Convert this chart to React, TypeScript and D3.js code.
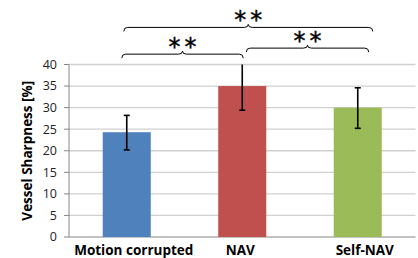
import React from "react";
import * as d3 from "d3";

const categories = ["Motion corrupted", "NAV", "Self-NAV"];
const means = [24.3, 35.0, 30.0];
const errLow = [20.2, 29.4, 25.2];
const errHigh = [28.2, 40.0, 34.6];
const colors = ["#4F81BD", "#C0504D", "#9BBB59"];
const yTicks = [0, 5, 10, 15, 20, 25, 30, 35, 40];
const yLabel = "Vessel Sharpness [%]";
// significance brackets: from/to category index, level in data units
const brFrom = [0, 1, 0];
const brTo = [1, 2, 2];
const brLevel = [42.4, 43.8, 48.6];
const brDx1 = [-5, 4, -3];
const brDx2 = [1, 11, 15];
const brLabel = ["**", "**", "**"];

const W = 418;
const H = 258;
const left = 69;
const right = 415.5;
const top = 64.5;
const bottom = 237;
const font = "'Open Sans', sans-serif";

export default function App() {
  const x = d3
    .scaleBand<string>()
    .domain(categories)
    .range([left, right])
    .paddingInner(0.584)
    .paddingOuter(0.292);
  const y = d3.scaleLinear().domain([0, 40]).range([bottom, top]);
  const bw = x.bandwidth();
  const cx = (i: number) => (x(categories[i]) as number) + bw / 2;

  const brace = (x1: number, x2: number, yy: number) => {
    const xm = (x1 + x2) / 2;
    const h = 4;
    const r = 4;
    const p = d3.path();
    p.moveTo(x1, yy + h);
    p.quadraticCurveTo(x1, yy, x1 + r, yy);
    p.lineTo(xm - r, yy);
    p.quadraticCurveTo(xm, yy, xm, yy - 3);
    p.quadraticCurveTo(xm, yy, xm + r, yy);
    p.lineTo(x2 - r, yy);
    p.quadraticCurveTo(x2, yy, x2, yy + h);
    return p.toString();
  };

  return (
    <svg
      width={W}
      height={H}
      style={{ position: "absolute", left: 0, top: 0, background: "#fff" }}
    >
      {yTicks.map((t) => (
        <g key={t}>
          {t > 0 && (
            <line x1={left} x2={right} y1={y(t)} y2={y(t)} stroke="#d0d0d0" strokeWidth={1.3} />
          )}
          <line x1={left - 5} x2={left} y1={y(t)} y2={y(t)} stroke="#868686" strokeWidth={1} />
          <text
            x={57}
            y={y(t)}
            dy="0.35em"
            textAnchor="end"
            fontFamily={font}
            fontSize={12.5}
            fill="#222"
          >
            {t}
          </text>
        </g>
      ))}
      <line x1={left} x2={right} y1={bottom} y2={bottom} stroke="#868686" strokeWidth={1} />
      <line x1={left} x2={left} y1={top} y2={bottom} stroke="#868686" strokeWidth={1} />

      {categories.map((c, i) => (
        <g key={c}>
          <rect x={x(c)} y={y(means[i])} width={bw} height={bottom - y(means[i])} fill={colors[i]} />
          <line x1={cx(i)} x2={cx(i)} y1={y(errLow[i])} y2={y(errHigh[i])} stroke="#000" strokeWidth={1.6} />
          <line x1={cx(i) - 3} x2={cx(i) + 3} y1={y(errLow[i])} y2={y(errLow[i])} stroke="#000" strokeWidth={1.6} />
          {errHigh[i] < 40 && (
            <line x1={cx(i) - 3} x2={cx(i) + 3} y1={y(errHigh[i])} y2={y(errHigh[i])} stroke="#000" strokeWidth={1.6} />
          )}
          <text
            x={cx(i) + (i === 1 ? -2 : 7)}
            y={254.5}
            textAnchor="middle"
            fontFamily={font}
            fontWeight="bold"
            fontSize={13.5}
            fill="#000"
          >
            {c}
          </text>
        </g>
      ))}

      {brFrom.map((f, k) => {
        const x1 = cx(f) + brDx1[k];
        const x2 = cx(brTo[k]) + brDx2[k];
        const yy = y(brLevel[k]);
        return (
          <g key={k}>
            <path d={brace(x1, x2, yy)} fill="none" stroke="#000" strokeWidth={1} />
            <text
              x={(x1 + x2) / 2 + 2}
              y={yy + 1}
              textAnchor="middle"
              fontFamily="'DejaVu Sans', sans-serif"
              fontSize={24}
              letterSpacing={4}
              stroke="#000"
              strokeWidth={0.4}
              fill="#000"
            >
              {brLabel[k]}
            </text>
          </g>
        );
      })}

      <text
        transform={`translate(27,${(top + bottom) / 2}) rotate(-90)`}
        textAnchor="middle"
        dy="0.35em"
        fontFamily={font}
        fontWeight="bold"
        fontSize={13.5}
        fill="#000"
      >
        {yLabel}
      </text>
    </svg>
  );
}
